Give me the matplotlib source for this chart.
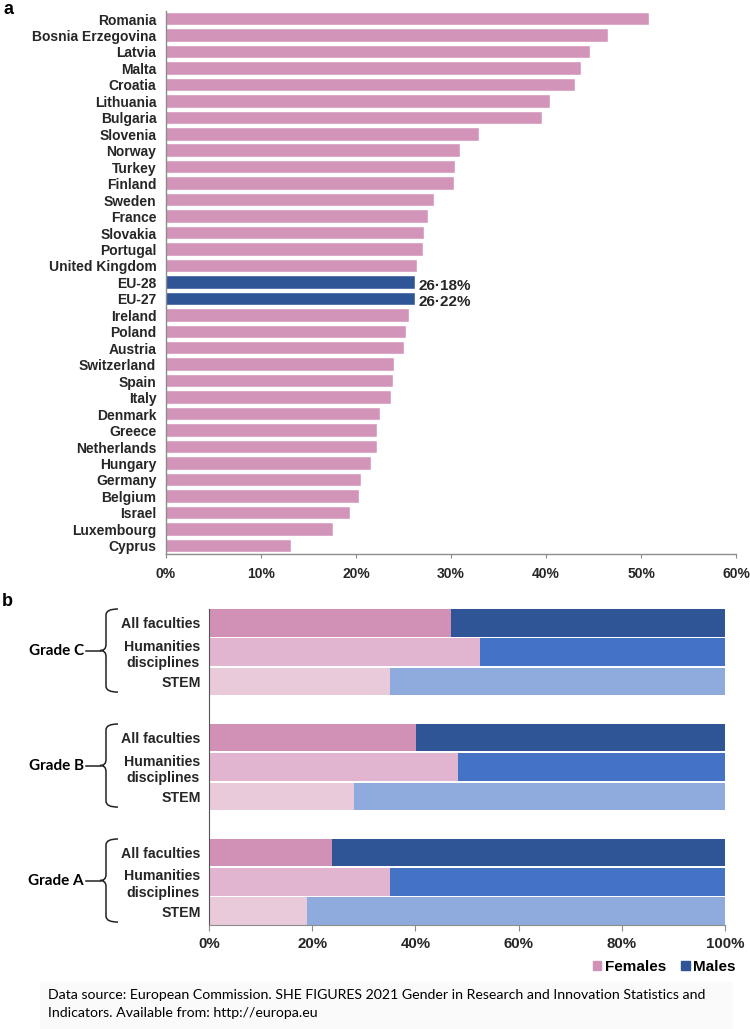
import matplotlib
matplotlib.use('Agg')
import matplotlib.pyplot as plt
from matplotlib.path import Path
from matplotlib.patches import PathPatch, Rectangle, Patch
from matplotlib.transforms import blended_transform_factory
from matplotlib.ticker import FuncFormatter
import numpy as np

# ---------------- data ----------------
countries = ['Romania', 'Bosnia Erzegovina', 'Latvia', 'Malta', 'Croatia', 'Lithuania',
             'Bulgaria', 'Slovenia', 'Norway', 'Turkey', 'Finland', 'Sweden', 'France',
             'Slovakia', 'Portugal', 'United Kingdom', 'EU-28', 'EU-27', 'Ireland', 'Poland',
             'Austria', 'Switzerland', 'Spain', 'Italy', 'Denmark', 'Greece', 'Netherlands',
             'Hungary', 'Germany', 'Belgium', 'Israel', 'Luxembourg', 'Cyprus']
women_share = [50.8, 46.5, 44.6, 43.7, 43.0, 40.4, 39.6, 32.9, 30.9, 30.4, 30.3, 28.2, 27.6,
               27.2, 27.1, 26.4, 26.18, 26.22, 25.6, 25.3, 25.1, 24.0, 23.9, 23.7, 22.5, 22.2,
               22.2, 21.6, 20.5, 20.3, 19.4, 17.6, 13.2]
highlight = ['EU-28', 'EU-27']
highlight_labels = ['26·18%', '26·22%']
top_ticks = [0, 10, 20, 30, 40, 50, 60]

grades = ['Grade C', 'Grade B', 'Grade A']
fields = ['All faculties', 'Humanities\ndisciplines', 'STEM']
grade_c_female = [46.9, 52.6, 35.0]
grade_b_female = [40.1, 48.3, 28.1]
grade_a_female = [23.9, 35.0, 18.9]
bottom_ticks = [0, 20, 40, 60, 80, 100]
legend_labels = ['Females', 'Males']

caption_lines = ['Data source: European Commission. SHE FIGURES 2021 Gender in Research and Innovation Statistics and',
                 'Indicators. Available from: http://europa.eu']

# ---------------- style ----------------
PINK = '#D394BA'
BLUE = '#2F5597'
female_cols = ['#D191B7', '#E1B5D0', '#E8CADB']
male_cols = ['#2F5597', '#4472C4', '#8FAADC']
AX_GRAY = '#8c8c8c'
TXT = '#262626'
ARIAL = ['Liberation Sans', 'DejaVu Sans']
CALIBRI = ['Lato', 'DejaVu Sans']

W, H = 750, 1029
fig = plt.figure(figsize=(W / 100, H / 100), dpi=100)


def fx(px):
    return px / W


def fy(py):
    return 1 - py / H


# ---------------- panel a ----------------
ax1 = fig.add_axes([fx(166), fy(554), fx(736) - fx(166), (554 - 10.8) / H])
n = len(countries)
ypos = np.arange(n)
cols = [BLUE if c in highlight else PINK for c in countries]
ax1.barh(ypos, women_share, height=0.76, color=cols, edgecolor='white', linewidth=0.3)
ax1.set_ylim(n - 0.5, -0.5)
ax1.set_xlim(top_ticks[0], top_ticks[-1])
ax1.set_yticks(ypos)
ax1.set_yticklabels(countries, family=ARIAL, fontweight='bold', fontsize=10, color=TXT)
ax1.set_xticks(top_ticks)
ax1.xaxis.set_major_formatter(FuncFormatter(lambda v, p: f'{v:.0f}%'))
for lab in ax1.get_xticklabels():
    lab.set_family(ARIAL)
    lab.set_fontweight('bold')
    lab.set_fontsize(10)
    lab.set_color(TXT)
ax1.tick_params(axis='y', length=0, pad=7)
ax1.tick_params(axis='x', length=3, pad=6, color=AX_GRAY)
for s in ['top', 'right']:
    ax1.spines[s].set_visible(False)
for s in ['left', 'bottom']:
    ax1.spines[s].set_color(AX_GRAY)
    ax1.spines[s].set_linewidth(1)
for name, lab in zip(highlight, highlight_labels):
    i = countries.index(name)
    ax1.text(women_share[i] + 0.4, i + 0.2, lab, ha='left', va='center',
             family=ARIAL, fontweight='bold', fontsize=11, color=TXT)

fig.text(fx(3), fy(9), 'a', family=ARIAL, fontweight='bold', fontsize=13, va='center', ha='left')

# ---------------- panel b ----------------
ax2 = fig.add_axes([fx(209), fy(925), fx(725) - fx(209), (925 - 609) / H])
group_gap = 0.93
bh = 0.94
female_all = [grade_c_female, grade_b_female, grade_a_female]
tick_pos, tick_lab = [], []
group_centers = []
for g, (grade, fem) in enumerate(zip(grades, female_all)):
    base = g * (len(fields) + group_gap)
    for k, (field, f) in enumerate(zip(fields, fem)):
        yy = base + k
        ax2.barh(yy, f, height=bh, color=female_cols[k], linewidth=0)
        ax2.barh(yy, 100 - f, left=f, height=bh, color=male_cols[k], linewidth=0)
        tick_pos.append(yy)
        tick_lab.append(field)
    group_centers.append((base, base + len(fields) - 1))
last = tick_pos[-1]
ax2.set_ylim(last + bh / 2, -bh / 2)
ax2.set_xlim(0, 100)
ax2.set_yticks(tick_pos)
ax2.set_yticklabels(tick_lab, family=ARIAL, fontweight='bold', fontsize=10.2, color=TXT,
                    multialignment='center')
ax2.set_xticks(bottom_ticks)
ax2.xaxis.set_major_formatter(FuncFormatter(lambda v, p: f'{v:.0f}%'))
for lab in ax2.get_xticklabels():
    lab.set_family(ARIAL)
    lab.set_fontweight('bold')
    lab.set_fontsize(10.8)
    lab.set_color(TXT)
ax2.tick_params(axis='y', length=0, pad=6)
ax2.tick_params(axis='x', length=4, pad=5, color=AX_GRAY)
for s in ['top', 'right']:
    ax2.spines[s].set_visible(False)
ax2.spines['bottom'].set_color(AX_GRAY)
ax2.spines['left'].set_color('#555555')

# braces and grade labels
btrans = blended_transform_factory(fig.transFigure, ax2.transData)
for grade, (y0, y1) in zip(grades, group_centers):
    top = y0 - bh / 2 + 0.0
    bot = y1 + bh / 2 - 0.1
    mid = (top + bot) / 2
    xr, xv, xt = fx(118), fx(106), fx(100)
    verts = [(xr, top), (xv, top), (xv, top + 0.2),
             (xv, mid - 0.2),
             (xv, mid), (xt, mid),
             (xv, mid), (xv, mid + 0.2),
             (xv, bot - 0.2),
             (xv, bot), (xr, bot)]
    codes = [Path.MOVETO, Path.CURVE3, Path.CURVE3,
             Path.LINETO,
             Path.CURVE3, Path.CURVE3,
             Path.CURVE3, Path.CURVE3,
             Path.LINETO,
             Path.CURVE3, Path.CURVE3]
    ax2.add_patch(PathPatch(Path(verts, codes), transform=btrans, fill=False,
                            edgecolor='#222222', linewidth=1.1, clip_on=False))
    ax2.plot([fx(86), fx(100)], [mid, mid], transform=btrans, color='#222222',
             linewidth=1.1, clip_on=False)
    ax2.text(fx(84), mid, grade, transform=btrans, ha='right', va='center',
             family=CALIBRI, fontweight='bold', fontsize=11, color='black')

fig.text(fx(2), fy(601), 'b', family=ARIAL, fontweight='bold', fontsize=13, va='center', ha='left')

# legend
handles = [Patch(color=female_cols[0]), Patch(color=male_cols[0])]
fig.legend(handles, legend_labels, loc='center right', bbox_to_anchor=(fx(736), fy(967)),
           ncol=2, frameon=False, handlelength=0.55, handleheight=0.55, handletextpad=0.25,
           columnspacing=1.0, prop={'family': ARIAL, 'weight': 'bold', 'size': 11},
           borderaxespad=0, borderpad=0)

# caption
fig.patches.append(Rectangle((fx(40), 0), fx(732) - fx(40), (1029 - 982) / H,
                             transform=fig.transFigure, color='#fafafa', zorder=0))
t1 = fig.text(fx(48), fy(995), caption_lines[0], family=CALIBRI, fontsize=10,
              va='center', ha='left', color='black')
t2 = fig.text(fx(48), fy(1013), caption_lines[1], family=CALIBRI, fontsize=10,
              va='center', ha='left', color='black')
fig.canvas.draw()
w = t1.get_window_extent().width
size = 10 * 659 / w
t1.set_fontsize(size)
t2.set_fontsize(size)

fig.savefig('out.png', dpi=100)
